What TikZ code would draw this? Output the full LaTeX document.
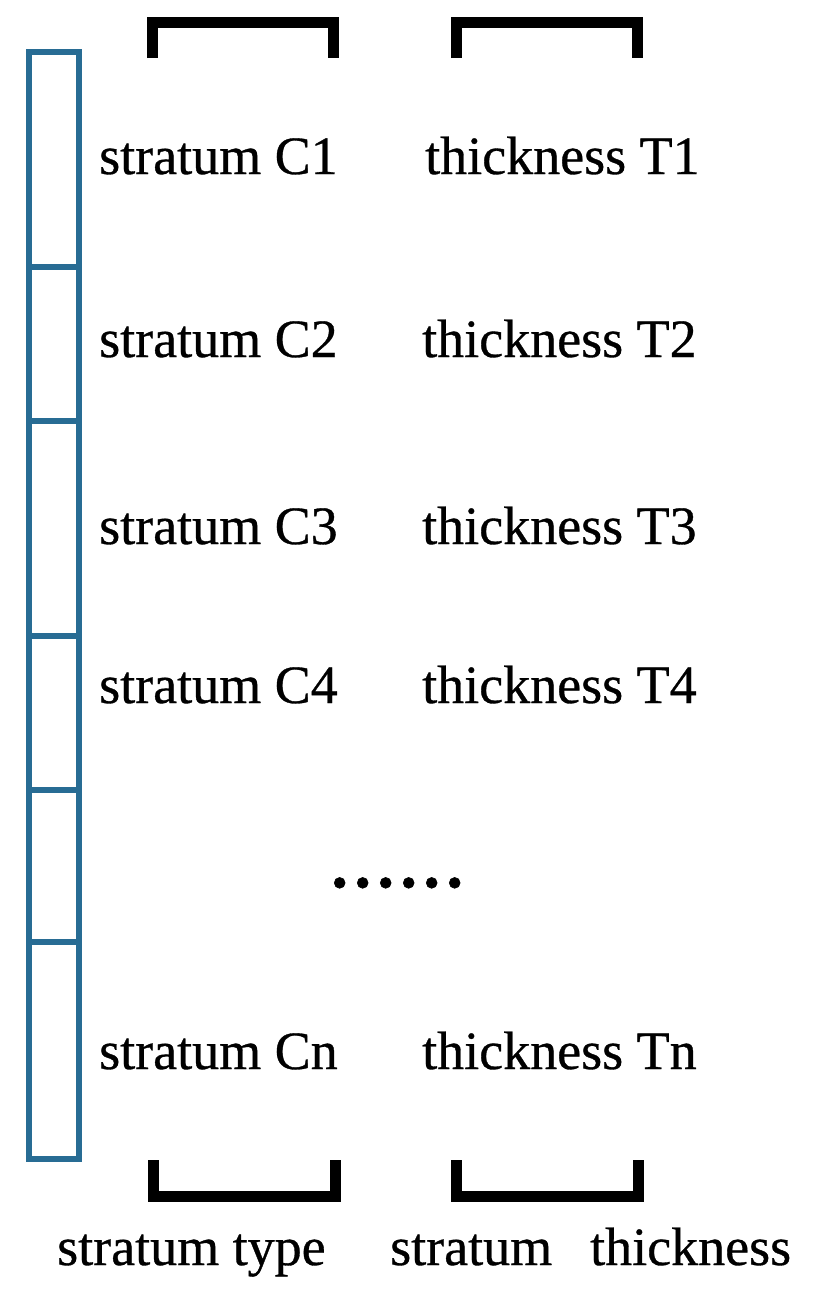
\documentclass[tikz,border=0pt]{standalone}
\usepackage{fontspec}
\setmainfont[FakeBold=0.6]{Liberation Serif}
\definecolor{colblue}{RGB}{40,108,148}
\begin{document}
\begin{tikzpicture}[x=1pt,y=-1pt,
  col/.style={draw=colblue,line width=6pt},
  bracket/.style={draw=black,line width=11pt},
  lbl/.style={anchor=base west,inner sep=0pt,font=\fontsize{54}{60}\selectfont}]
\useasboundingbox[fill=white] (0,0) rectangle (816,1296);
% stratum column
\draw[col] (28.5,52) rectangle (78.5,1159);
\foreach \yy/\nm in {267/d1,421/d2,636/d3,790/d4,942/d5}{
  \coordinate (\nm l) at (28.5,\yy);
  \coordinate (\nm r) at (78.5,\yy);
  \draw[col] (\nm l) -- (\nm r);
}
% top brackets
\coordinate (tla) at (152,58); \coordinate (tlb) at (152,22);
\coordinate (tlc) at (333,22); \coordinate (tld) at (333,58);
\draw[bracket] (tla) -- (tlb) -- (tlc) -- (tld);
\coordinate (tra) at (456,58); \coordinate (trb) at (456,22);
\coordinate (trc) at (637,22); \coordinate (trd) at (637,58);
\draw[bracket] (tra) -- (trb) -- (trc) -- (trd);
% bottom brackets
\coordinate (bla) at (153,1160); \coordinate (blb) at (153,1196);
\coordinate (blc) at (335,1196); \coordinate (bld) at (335,1160);
\draw[bracket] (bla) -- (blb) -- (blc) -- (bld);
\coordinate (bra) at (456,1160); \coordinate (brb) at (456,1196);
\coordinate (brc) at (638,1196); \coordinate (brd) at (638,1160);
\draw[bracket] (bra) -- (brb) -- (brc) -- (brd);
% rows
\node[lbl] (c1) at (99,174) {stratum C1};
\node[lbl] (t1) at (425,174) {thickness T1};
\node[lbl] (c2) at (99,357) {stratum C2};
\node[lbl] (t2) at (422,357) {thickness T2};
\node[lbl] (c3) at (99,544) {stratum C3};
\node[lbl] (t3) at (422,544) {thickness T3};
\node[lbl] (c4) at (99,703) {stratum C4};
\node[lbl] (t4) at (422,703) {thickness T4};
\node[lbl,font=\fontsize{92}{100}\selectfont] (dots) at (328,887) {......};
\node[lbl] (cn) at (99,1069) {stratum Cn};
\node[lbl] (tn) at (422,1069) {thickness Tn};
% bottom labels
\node[lbl] (stype) at (57,1265) {stratum type};
\node[lbl] (sthick) at (390,1265) {stratum\hspace{38pt}thickness};
\end{tikzpicture}
\end{document}
